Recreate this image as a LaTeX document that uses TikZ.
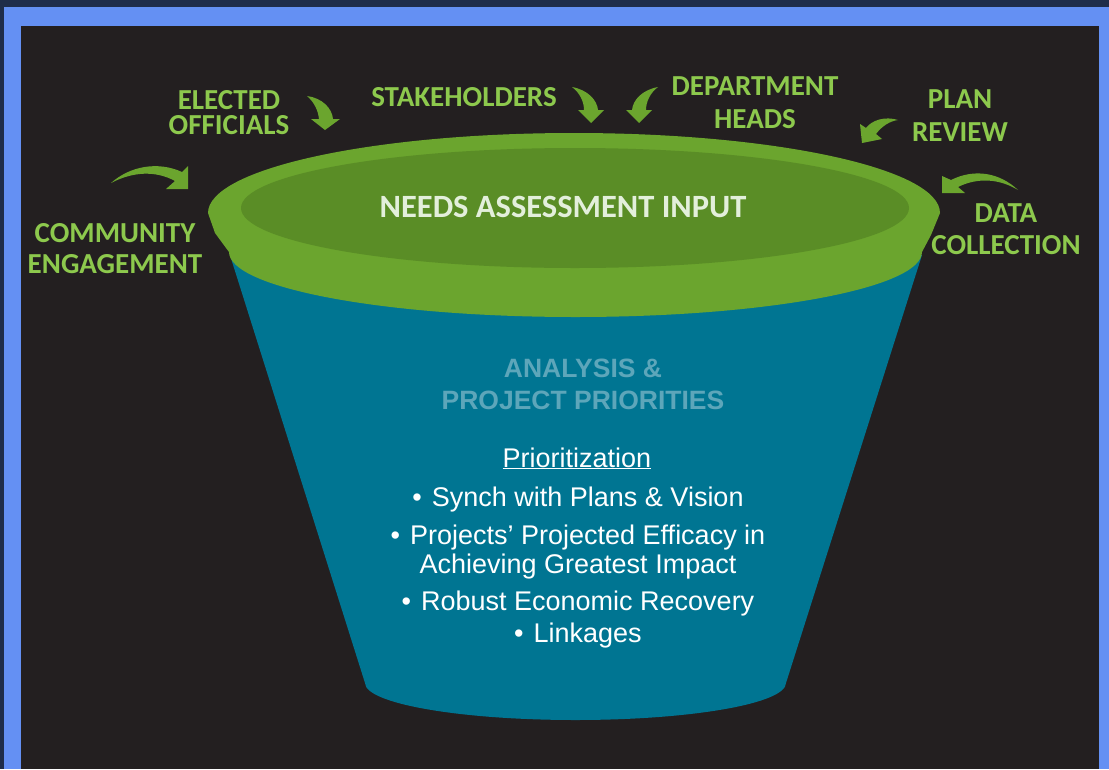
\documentclass[tikz,border=0pt]{standalone}
\usepackage{fontspec}
\setmainfont{Liberation Sans}
\newfontfamily\calfont{Carlito}
\usetikzlibrary{positioning}

\definecolor{navyedge}{HTML}{1F2D4A}
\definecolor{frameblue}{HTML}{6490F3}
\definecolor{slateback}{HTML}{231F20}
\definecolor{rimgreen}{HTML}{6BA52E}
\definecolor{bowlgreen}{HTML}{5A8D26}
\definecolor{conefill}{HTML}{007592}
\definecolor{labelgreen}{HTML}{8DC94D}
\definecolor{headtext}{HTML}{E3EFDB}
\definecolor{fadedtext}{HTML}{5DA6BA}

\begin{document}
\begin{tikzpicture}[x=1pt,y=-1pt]
  \tikzstyle{src}=[font=\calfont\bfseries\fontsize{29}{32}\selectfont,text=labelgreen,align=center,anchor=base,inner sep=0pt]
  \tikzstyle{curl}=[fill=rimgreen,draw=none]
  \tikzstyle{title}=[font=\calfont\bfseries\fontsize{32.5}{34}\selectfont,text=headtext,anchor=base,inner sep=0pt]
  \tikzstyle{stage}=[font=\bfseries\fontsize{26.5}{32}\selectfont,text=fadedtext,align=center,anchor=base,inner sep=0pt]
  \tikzstyle{item}=[font=\fontsize{27}{29}\selectfont,text=white,align=center,anchor=base,inner sep=0pt]

  % frame
  \fill[navyedge] (0,0) rectangle (1109,769);
  \fill[frameblue] (4,7) rectangle (1109,769);
  \fill[slateback] (21,26) rectangle (1099,769);
  \useasboundingbox (0,0) rectangle (1109,769);

  % funnel
  \fill[conefill] (229,252) -- (365,683)
    arc[start angle=180,end angle=0,x radius=210.5,y radius=37] -- (922,255) -- cycle;
  \fill[rimgreen] (208,213)
    arc[start angle=180,end angle=360,x radius=366,y radius=80]
    -- (931,235) -- (922,252)
    arc[start angle=0,end angle=180,x radius=346.5,y radius=65]
    -- (215,233) -- cycle;
  \fill[bowlgreen] (575,208) ellipse[x radius=334,y radius=60];

  % inputs (base = last line)
  \node[src] (community) at (115,273) {COMMUNITY\\[-1pt]ENGAGEMENT};
  \node[src] (elected) at (229,134) {ELECTED\\[-7pt]OFFICIALS};
  \node[src] (stake) at (464,106) {STAKEHOLDERS};
  \node[src] (dept) at (755,128) {DEPARTMENT\\[1pt]HEADS};
  \node[src] (plan) at (960,141) {PLAN\\[1pt]REVIEW};
  \node[src] (data) at (1006,254) {DATA\\COLLECTION};

  % bent arrows
  \fill[curl] (111,183) .. controls (130,166) and (158,161) .. (182,172)
    -- (188,166) -- (188,189) -- (166,189) -- (175,181)
    .. controls (155,170) and (132,172) .. (111,183) -- cycle;
  \fill[curl] (307,96) .. controls (322,98) and (332,108) .. (333,119)
    -- (340,119) -- (325,130) -- (311,119) -- (319,119)
    .. controls (318,110) and (314,102) .. (307,96) -- cycle;
  \fill[curl] (572,87) .. controls (588,90) and (597,100) .. (598,110)
    -- (604,110) -- (591,123) -- (578,110) -- (584,110)
    .. controls (584,102) and (580,93) .. (572,87) -- cycle;
  \fill[curl] (658,87) .. controls (642,90) and (633,100) .. (632,110)
    -- (626,110) -- (639,123) -- (652,110) -- (646,110)
    .. controls (646,102) and (650,93) .. (658,87) -- cycle;
  \fill[curl] (898,120) .. controls (885,116) and (872,120) .. (866,128)
    -- (860,124) -- (862,143) -- (882,139) -- (876,134)
    .. controls (882,126) and (890,121) .. (898,120) -- cycle;
  \fill[curl] (1018,190) .. controls (1000,173) and (975,168) .. (951,180)
    -- (942,176) -- (942,193) -- (965,193) -- (958,187)
    .. controls (978,177) and (1000,179) .. (1018,190) -- cycle;

  % funnel texts
  \node[title] (needs) at (563,217) {NEEDS ASSESSMENT INPUT};
  \node[stage] (analysis) at (583,409) {ANALYSIS \&\\PROJECT PRIORITIES};
  \node[item] (prio) at (577,467) {\underline{Prioritization}};
  \node[item] (list) at (578,642) {•\hspace{10pt}Synch with Plans \& Vision\\[9pt]
    •\hspace{10pt}Projects’ Projected Efficacy in\\
    Achieving Greatest Impact\\[8pt]
    •\hspace{10pt}Robust Economic Recovery\\[3pt]
    •\hspace{10pt}Linkages};
\end{tikzpicture}
\end{document}
